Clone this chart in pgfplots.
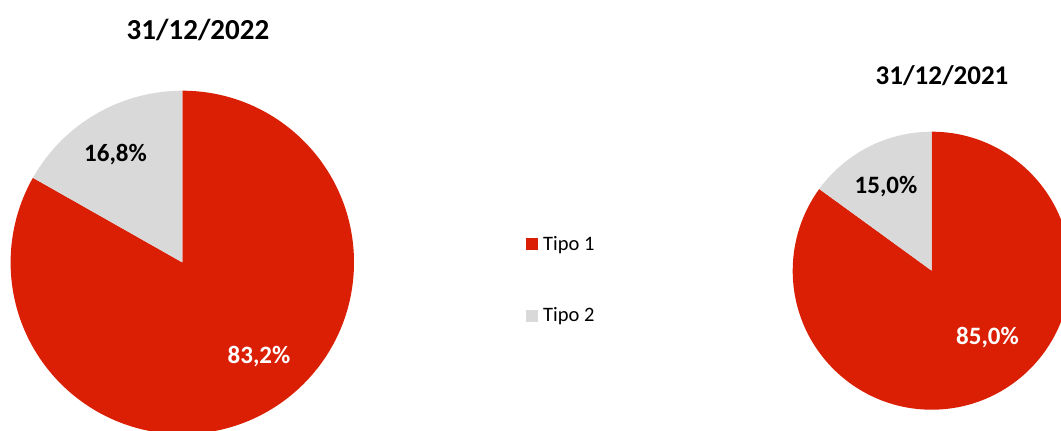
\documentclass[border=0pt]{standalone}
\usepackage{pgfplots}
\pgfplotsset{compat=1.18}
\usepackage{pgfplotstable}
\usepackage{fontspec}
\setmainfont{Carlito}
\definecolor{rojo}{RGB}{218,31,5}
\definecolor{gris}{RGB}{217,217,217}

\pgfplotstableread{
tipo valor
1 83.2
2 16.8
}\tablaA
\pgfplotstableread{
tipo valor
1 85.0
2 15.0
}\tablaB

\begin{document}
\begin{tikzpicture}
\useasboundingbox (0,0) rectangle (1061pt,431pt);
\clip (0,0) rectangle (1061pt,431pt);
% ---- left pie (31/12/2022)
\pgfplotstablegetelem{0}{valor}\of\tablaA \let\vA\pgfplotsretval
\pgfmathsetmacro\angA{90-3.6*\vA}
\pgfmathsetmacro\angAg{\angA+360}
\begin{axis}[hide axis, scale only axis, width=343.4pt, height=343.4pt,
  xmin=-1, xmax=1, ymin=-1, ymax=1, clip=false,
  anchor=center, at={(182.3pt,168.6pt)},
  legend style={draw=none, fill=none, at={(1.5009,0.5769)}, anchor=north west,
    inner sep=0pt, row sep=56pt, font=\fontsize{20.5}{23}\selectfont,
    nodes={inner sep=0pt, anchor=west}},
  legend cell align=left,
  /tikz/every odd column/.append style={column sep=5pt},
  legend image code/.code={\fill[#1] (0pt,-6pt) rectangle (12pt,6pt);}]
\addlegendimage{fill=rojo, draw=none}
\addlegendentry{Tipo 1}
\addlegendimage{fill=gris, draw=none}
\addlegendentry{Tipo 2}
\fill[rojo] (axis cs:0,0) -- (axis cs:0,1) arc[start angle=90, end angle=\angA, radius=171.7pt] -- cycle;
\fill[gris] (axis cs:0,0) -- (axis cs:0,1) arc[start angle=90, end angle=\angAg, radius=171.7pt] -- cycle;
\node[font=\fontsize{25}{30}\selectfont\bfseries] at (axis cs:-0.389,0.6255) {16,8\%};
\node[font=\fontsize{25}{30}\selectfont\bfseries, text=white] at (axis cs:0.4467,-0.548) {83,2\%};
\node[font=\fontsize{29}{34}\selectfont\bfseries] at (axis cs:0.0914,1.3565) {31/12/2022};
\end{axis}
% ---- right pie (31/12/2021)
\pgfplotstablegetelem{0}{valor}\of\tablaB \let\vB\pgfplotsretval
\pgfmathsetmacro\angB{90-3.6*\vB}
\pgfmathsetmacro\angBg{\angB+360}
\begin{axis}[hide axis, scale only axis, width=278pt, height=278pt,
  xmin=-1, xmax=1, ymin=-1, ymax=1, clip=false,
  anchor=center, at={(931.7pt,160.3pt)}]
\fill[rojo] (axis cs:0,0) -- (axis cs:0,1) arc[start angle=90, end angle=\angB, radius=139pt] -- cycle;
\fill[gris] (axis cs:0,0) -- (axis cs:0,1) arc[start angle=90, end angle=\angBg, radius=139pt] -- cycle;
\node[font=\fontsize{25}{30}\selectfont\bfseries] at (axis cs:-0.3288,0.6058) {15,0\%};
\node[font=\fontsize{25}{30}\selectfont\bfseries, text=white] at (axis cs:0.4014,-0.4806) {85,0\%};
\node[font=\fontsize{27}{32}\selectfont\bfseries] at (axis cs:0.0741,1.4007) {31/12/2021};
\end{axis}
\end{tikzpicture}
\end{document}
